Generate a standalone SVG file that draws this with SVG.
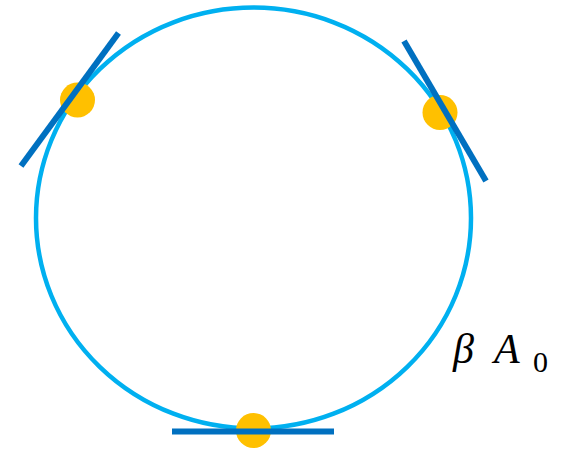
<svg xmlns="http://www.w3.org/2000/svg" width="565" height="450" viewBox="0 0 565 450">
<style>
.ring{fill:none;stroke:#00B0F0;stroke-width:4.5}
.dot{fill:#FFC000}
.tan{stroke:#0070C0;stroke-width:6;stroke-linecap:butt}
.it{font-family:"Liberation Serif",serif;font-style:italic;font-size:42px;fill:#000}
.sub{font-family:"Liberation Serif",serif;font-size:30px;fill:#000}
</style>
<rect width="565" height="450" fill="#fff"/>
<g id="ring"><ellipse class="ring" cx="253.5" cy="218" rx="217.5" ry="210.5"/></g>
<g id="p1"><circle class="dot" cx="77.5" cy="100" r="17.5"/></g>
<g id="p2"><circle class="dot" cx="440" cy="112.5" r="17.5"/></g>
<g id="p3"><circle class="dot" cx="253.5" cy="430.5" r="17.5"/></g>
<g id="connectors">
<line class="tan" x1="21" y1="166" x2="118.5" y2="33"/>
<line class="tan" x1="404" y1="41" x2="486" y2="181"/>
<line class="tan" x1="172" y1="431.5" x2="334" y2="431.5"/>
</g>
<g id="label">
<text class="it" x="453" y="363">β</text>
<text class="it" x="494" y="363">A</text>
<text class="sub" x="533" y="372">0</text>
</g>
</svg>
